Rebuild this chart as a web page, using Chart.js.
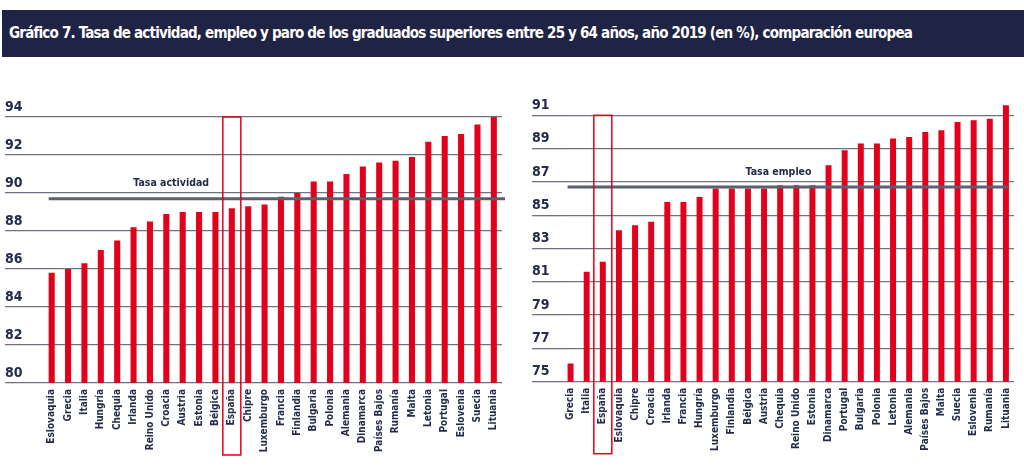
<!DOCTYPE html>
<html>
<head>
<meta charset="utf-8">
<script src="https://cdn.jsdelivr.net/npm/chart.js@4/dist/chart.umd.min.js"></script>
<style>
  body { margin: 0; width: 1024px; height: 468px; background: #fff; overflow: hidden; position: relative;
         font-family: "Liberation Sans Narrow", "DejaVu Sans Condensed", sans-serif; }
  #titulo { position: absolute; left: 2px; top: 10px; width: 1022px; height: 47px; background: #1f2444;
            color: #fff; font-weight: bold; font-size: 15px; letter-spacing: -0.8px; line-height: 47px;
            padding-left: 7px; box-sizing: border-box; white-space: nowrap; }
  canvas { position: absolute; top: 60px; }
</style>
</head>
<body>
<div id="titulo">Gráfico 7. Tasa de actividad, empleo y paro de los graduados superiores entre 25 y 64 años, año 2019 (en %), comparación europea</div>
<canvas id="actividad" width="512" height="408" style="left:0px"></canvas>
<canvas id="empleo" width="512" height="408" style="left:512px"></canvas>
<script>
// Datos ------------------------------------------------------------

const paisesActividad = ['Eslovaquia', 'Grecia', 'Italia', 'Hungría', 'Chequia', 'Irlanda', 'Reino Unido',
  'Croacia', 'Austria', 'Estonia', 'Bélgica', 'España', 'Chipre', 'Luxemburgo', 'Francia', 'Finlandia',
  'Bulgaria', 'Polonia', 'Alemania', 'Dinamarca', 'Países Bajos', 'Rumanía', 'Malta', 'Letonia',
  'Portugal', 'Eslovenia', 'Suecia', 'Lituania'];
const tasaActividad = [85.8, 86.0, 86.3, 87.0, 87.5, 88.2, 88.5, 88.9, 89.0, 89.0, 89.0, 89.2, 89.3, 89.4,
  89.8, 90.0, 90.6, 90.6, 91.0, 91.4, 91.6, 91.7, 91.9, 92.7, 93.0, 93.1, 93.6, 94.0];
const mediaActividad = 89.7;
const ticksActividad = [80, 82, 84, 86, 88, 90, 92, 94];

const paisesEmpleo = ['Grecia', 'Italia', 'España', 'Eslovaquia', 'Chipre', 'Croacia', 'Irlanda', 'Francia',
  'Hungría', 'Luxemburgo', 'Finlandia', 'Bélgica', 'Austria', 'Chequia', 'Reino Unido', 'Estonia',
  'Dinamarca', 'Portugal', 'Bulgaria', 'Polonia', 'Letonia', 'Alemania', 'Países Bajos', 'Malta',
  'Suecia', 'Eslovenia', 'Rumanía', 'Lituania'];
const tasaEmpleo = [76.1, 81.6, 82.2, 84.1, 84.4, 84.6, 85.8, 85.8, 86.1, 86.6, 86.6, 86.6, 86.6, 86.8, 86.8,
  86.8, 88.0, 88.9, 89.3, 89.3, 89.6, 89.7, 90.0, 90.1, 90.6, 90.7, 90.8, 91.6];
const mediaEmpleo = 86.7;
const ticksEmpleo = [75, 77, 79, 81, 83, 85, 87, 89, 91];

// Estilo -----------------------------------------------------------

const ROJO = '#e2001a';
const AZUL = '#252b4b';
const GRIS = '#6e7283';
Chart.defaults.font.family = '"Liberation Sans Narrow", "DejaVu Sans Condensed", sans-serif';

// linea de media, su texto y el recuadro de España
const marcas = {
  id: 'marcas',
  afterDraw(chart, args, opts) {
    const {ctx, chartArea, scales: {x, y}} = chart;
    const yl = y.getPixelForValue(opts.media);
    const n = chart.data.labels.length;
    const fin = opts.finEnArea ? chartArea.right + 3 : x.getPixelForValue(n - 1) + 2;
    ctx.save();
    ctx.strokeStyle = '#5b5f70';
    ctx.lineWidth = 3;
    ctx.beginPath();
    ctx.moveTo(x.getPixelForValue(0) - 3, yl);
    ctx.lineTo(fin, yl);
    ctx.stroke();

    ctx.fillStyle = AZUL;
    ctx.font = 'bold 10.5px ' + Chart.defaults.font.family;
    ctx.textAlign = 'center';
    ctx.textBaseline = 'middle';
    ctx.fillText(opts.texto, x.getPixelForValue(opts.posTexto), yl - 15);

    // recuadro España
    const xe = x.getPixelForValue(chart.data.labels.indexOf('España'));
    const top = y.getPixelForValue(opts.tope);
    ctx.strokeStyle = ROJO;
    ctx.lineWidth = 1.5;
    ctx.strokeRect(xe - 9, top, 18, chartArea.bottom + 72 - top);
    ctx.restore();
  }
};

function grafico(id, paises, valores, ticks, min, max, media, texto, posTexto, anchoEje, padding, finEnArea) {
  return new Chart(document.getElementById(id), {
    type: 'bar',
    data: {
      labels: paises,
      datasets: [{
        data: valores,
        backgroundColor: ROJO,
        barPercentage: 0.37,
        categoryPercentage: 1
      }]
    },
    options: {
      responsive: false,
      animation: false,
      layout: { padding: padding },
      plugins: {
        legend: { display: false },
        tooltip: { enabled: false },
        marcas: { media: media, texto: texto, posTexto: posTexto, tope: ticks[ticks.length - 1], finEnArea: finEnArea }
      },
      scales: {
        x: {
          afterFit: (s) => { s.height = 80; },
          grid: { display: false, drawTicks: false },
          border: { display: false },
          ticks: { autoSkip: false, minRotation: 90, maxRotation: 90, padding: 6, color: AZUL,
                   font: { size: 10, weight: 'bold' } }
        },
        y: {
          min: min,
          max: max,
          afterBuildTicks: (s) => { s.ticks = ticks.map(v => ({ value: v })); },
          afterFit: (s) => { s.width = anchoEje; },
          border: { display: false },
          grid: { color: GRIS, lineWidth: 1.3, tickLength: anchoEje },
          ticks: { crossAlign: 'far', labelOffset: -10, padding: 0, color: AZUL,
                   font: { size: 14, weight: 'bold' } }
        }
      }
    },
    plugins: [marcas]
  });
}

grafico('actividad', paisesActividad, tasaActividad, ticksActividad, 80, 94, mediaActividad,
  'Tasa actividad', 7.3, 38.5, { left: 5, right: 9.5, top: 57, bottom: 5 }, true);
grafico('empleo', paisesEmpleo, tasaEmpleo, ticksEmpleo, 75, 92, mediaEmpleo,
  'Tasa empleo', 12.9, 30.5, { left: 20, right: 4.5, top: 38.65, bottom: 6.3 }, false);
</script>
</body>
</html>
